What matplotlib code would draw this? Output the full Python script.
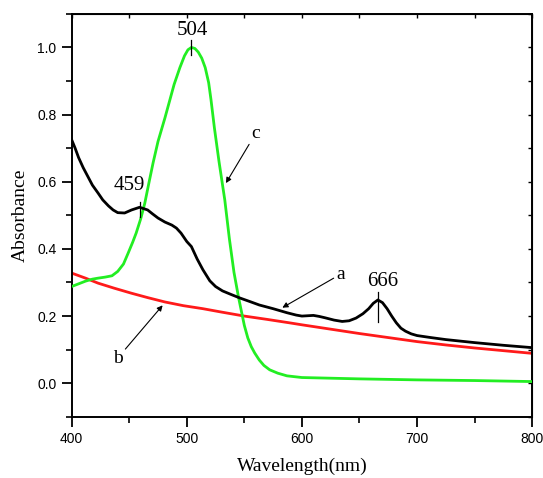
import matplotlib
matplotlib.use("Agg")
import matplotlib.pyplot as plt
from matplotlib.ticker import MultipleLocator

# Curve a (black)
wl_a = [400, 403, 406, 410, 414, 418, 423, 427, 432, 436, 440, 446, 452, 459, 466, 470,
        475, 481, 487, 491, 495, 500, 504, 509, 514, 520, 525, 531, 538, 546, 555, 563,
        575, 587, 595, 600, 605, 610, 615, 620, 628, 635, 641, 647, 653, 658, 662, 666,
        670, 674, 678, 682, 686, 690, 695, 700, 712, 725, 750, 775, 800]
abs_a = [0.725, 0.70, 0.672, 0.642, 0.616, 0.59, 0.566, 0.546, 0.528, 0.516, 0.508, 0.507,
         0.516, 0.524, 0.516, 0.505, 0.492, 0.48, 0.471, 0.462, 0.447, 0.422, 0.407, 0.37,
         0.338, 0.305, 0.288, 0.275, 0.265, 0.254, 0.243, 0.233, 0.222, 0.21, 0.203, 0.2,
         0.201, 0.202, 0.199, 0.195, 0.188, 0.184, 0.186, 0.194, 0.207, 0.222, 0.238,
         0.248, 0.24, 0.222, 0.2, 0.18, 0.164, 0.155, 0.147, 0.142, 0.136, 0.13, 0.121,
         0.113, 0.106]

# Curve b (red)
wl_b = [400, 412, 423, 437, 452, 466, 481, 497, 514, 530, 550, 570, 589, 600, 625, 650,
        675, 700, 725, 750, 775, 800]
abs_b = [0.328, 0.313, 0.298, 0.283, 0.268, 0.255, 0.242, 0.231, 0.222, 0.212, 0.2, 0.19,
         0.18, 0.174, 0.161, 0.148, 0.136, 0.124, 0.114, 0.105, 0.097, 0.089]

# Curve c (green)
wl_c = [400, 406, 412, 418, 423, 429, 435, 440, 445, 449, 453, 456, 460, 463.5, 467, 470.7,
        475, 481, 485, 489, 494, 498, 501, 504, 507, 510, 513, 516, 519, 521, 524, 528,
        533, 537, 541, 545, 548, 550, 553, 556, 559, 563, 567, 572, 579, 587, 600, 650,
        700, 750, 800]
abs_c = [0.288, 0.296, 0.304, 0.31, 0.313, 0.316, 0.32, 0.333, 0.355, 0.387, 0.42, 0.447,
         0.49, 0.536, 0.595, 0.656, 0.72, 0.79, 0.84, 0.89, 0.94, 0.975, 0.993, 1.0, 0.997,
         0.986, 0.968, 0.94, 0.895, 0.845, 0.76, 0.66, 0.546, 0.43, 0.33, 0.255, 0.205,
         0.172, 0.135, 0.109, 0.09, 0.069, 0.053, 0.04, 0.03, 0.022, 0.017, 0.013, 0.01,
         0.008, 0.005]

x_ticks = [400, 500, 600, 700, 800]
y_ticks = [0.0, 0.2, 0.4, 0.6, 0.8, 1.0]

serif = "Liberation Serif"
sans = "Liberation Sans"

fig = plt.figure(figsize=(5.43, 4.78), dpi=100)
ax = fig.add_axes([0.132, 0.128, 0.848, 0.843])

ax.plot(wl_b, abs_b, color="#ff1a1a", lw=2.0, zorder=2, solid_joinstyle="round")
ax.plot(wl_c, abs_c, color="#22ee22", lw=2.0, zorder=3, solid_joinstyle="round")
ax.plot(wl_a, abs_a, color="black", lw=2.0, zorder=4, solid_joinstyle="round")

ax.set_xlim(400, 800)
ax.set_ylim(-0.1, 1.1)
ax.set_xticks(x_ticks)
ax.set_yticks(y_ticks)
ax.xaxis.set_minor_locator(MultipleLocator(50))
ax.yaxis.set_minor_locator(MultipleLocator(0.1))
ax.set_xticklabels([str(v) for v in x_ticks], fontfamily=sans, fontsize=10)
ax.set_yticklabels([f"{v:.1f}" for v in y_ticks], fontfamily=sans, fontsize=10)

ax.tick_params(which="major", direction="out", length=7, width=1.3,
               top=False, right=False, pad=4)
ax.tick_params(which="minor", direction="out", length=4, width=1.2,
               top=False, right=False)
for sp in ax.spines.values():
    sp.set_linewidth(1.4)

# mirrored short inward ticks on top and right edges
axt = ax.secondary_xaxis("top")
axt.set_xticks(x_ticks)
axt.xaxis.set_minor_locator(MultipleLocator(50))
axt.tick_params(which="both", direction="in", length=3, width=1.0, labeltop=False)
axr = ax.secondary_yaxis("right")
axr.set_yticks(y_ticks)
axr.yaxis.set_minor_locator(MultipleLocator(0.1))
axr.tick_params(which="both", direction="in", length=3, width=1.0, labelright=False)

ax.set_xlabel("Wavelength(nm)", fontfamily=serif, fontsize=14, labelpad=8)
ax.set_ylabel("Absorbance", fontfamily=serif, fontsize=14, labelpad=6)

# peak markers
peaks = [(504, 1.0, 0.023, 0.022, 505, 1.05),
         (459, 0.524, 0.016, 0.03, 450.5, 0.59),
         (666, 0.248, 0.024, 0.065, 670, 0.303)]
for px, py, up, down, tx, ty in peaks:
    ax.plot([px, px], [py - down, py + up], color="black", lw=0.9, zorder=5)
    ax.text(tx, ty, str(px), fontfamily=serif, fontsize=15,
            ha="center", va="center")

arrow = dict(arrowstyle="-|>", lw=0.8, color="black",
             mutation_scale=8, shrinkA=0, shrinkB=0)
ax.annotate("a", xy=(583, 0.225), xytext=(630, 0.325), fontfamily=serif,
            fontsize=14, ha="left", va="center", arrowprops=arrow)
ax.annotate("b", xy=(479, 0.232), xytext=(440, 0.075), fontfamily=serif,
            fontsize=14, ha="center", va="center", arrowprops=arrow)
ax.annotate("c", xy=(534, 0.596), xytext=(560, 0.745), fontfamily=serif,
            fontsize=14, ha="center", va="center", arrowprops=arrow)

fig.savefig("out.png", dpi=100)
